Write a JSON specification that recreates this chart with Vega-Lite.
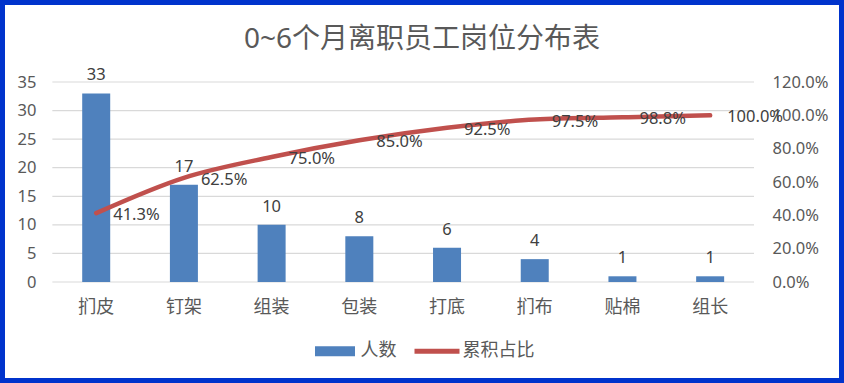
{
  "$schema": "https://vega.github.io/schema/vega-lite/v6.json",
  "width": 844,
  "height": 383,
  "padding": 0,
  "autosize": {"type": "none"},
  "background": "white",
  "config": {
    "view": {"stroke": "#0033CC", "strokeWidth": 10, "fill": "white"},
    "font": "Noto Sans, Noto Sans CJK SC"
  },
  "title": {
    "text": "0~6个月离职员工岗位分布表",
    "frame": "group",
    "anchor": "middle",
    "offset": -47,
    "dy": 29,
    "baseline": "alphabetic",
    "fontSize": 28,
    "fontWeight": "normal",
    "color": "#595959",
    "font": "Noto Sans, Noto Sans CJK SC"
  },
  "data": {
    "values": [
      {"岗位": "扪皮", "人数": 33, "累积占比": 0.413},
      {"岗位": "钉架", "人数": 17, "累积占比": 0.625},
      {"岗位": "组装", "人数": 10, "累积占比": 0.75},
      {"岗位": "包装", "人数": 8, "累积占比": 0.85},
      {"岗位": "打底", "人数": 6, "累积占比": 0.925},
      {"岗位": "扪布", "人数": 4, "累积占比": 0.975},
      {"岗位": "贴棉", "人数": 1, "累积占比": 0.988},
      {"岗位": "组长", "人数": 1, "累积占比": 1.0}
    ]
  },
  "encoding": {
    "x": {
      "field": "岗位",
      "type": "nominal",
      "sort": null,
      "scale": {
        "domain": ["扪皮", "钉架", "组装", "包装", "打底", "扪布", "贴棉", "组长"],
        "paddingInner": 0.377,
        "paddingOuter": 1,
        "align": 0.3927
      },
      "axis": {
        "orient": "bottom",
        "offset": -101,
        "title": null,
        "domain": false,
        "ticks": false,
        "grid": false,
        "labelPadding": 16,
        "labelFontSize": 18,
        "labelColor": "#595959",
        "labelFont": "Noto Sans CJK SC",
        "labelAngle": 0
      }
    }
  },
  "layer": [
    {
      "layer": [
        {
          "data": {"values": [{"g": 0}, {"g": 5}, {"g": 10}, {"g": 15}, {"g": 20}, {"g": 25}, {"g": 30}, {"g": 35}]},
          "mark": {"type": "rule", "color": "#D9D9D9", "strokeWidth": 1.2},
          "encoding": {
            "x": {"datum": "扪皮", "type": "nominal", "bandPosition": -0.3025},
            "x2": {"datum": "组长", "bandPosition": 1.3025},
            "y": {
              "field": "g",
              "type": "quantitative",
              "scale": {"domain": [-17.675, 49.35], "nice": false, "zero": false},
              "axis": {
                "orient": "left",
                "offset": -52,
                "values": [0, 5, 10, 15, 20, 25, 30, 35],
                "title": null,
                "grid": false,
                "domain": false,
                "ticks": false,
                "labelPadding": 16,
                "labelFontSize": 16.5,
                "labelColor": "#595959"
              }
            }
          }
        },
        {
          "mark": {"type": "bar", "width": {"band": 0.5125}},
          "encoding": {
            "y": {
              "field": "人数",
              "type": "quantitative",
              "scale": {"domain": [-17.675, 49.35], "nice": false, "zero": false},
              "axis": {
                "orient": "left",
                "offset": -52,
                "values": [0, 5, 10, 15, 20, 25, 30, 35],
                "title": null,
                "grid": false,
                "domain": false,
                "ticks": false,
                "labelPadding": 16,
                "labelFontSize": 16.5,
                "labelColor": "#595959"
              }
            },
            "y2": {"datum": 0},
            "color": {
              "datum": "人数",
              "type": "nominal",
              "scale": {"domain": ["人数", "累积占比"], "range": ["#4F81BD", "#C0504D"]},
              "legend": {
                "orient": "none",
                "legendX": 312.5,
                "legendY": 328.5,
                "direction": "horizontal",
                "title": null,
                "symbolSize": 2025,
                "symbolType": "M-0.889,-0.222H0.889V0.222H-0.889Z",
                "symbolStrokeWidth": 0,
                "labelFontSize": 18,
                "labelFont": "Noto Sans CJK SC",
                "labelColor": "#595959",
                "labelOffset": 3,
                "columnPadding": 18,
                "encode": {
                  "symbols": {
                    "update": {
                      "shape": [
                        {"test": "datum.value === '人数'", "value": "M-0.889,-0.222H0.889V0.222H-0.889Z"},
                        {"value": "M-1,-0.11H1V0.11H-1Z"}
                      ],
                      "fill": [
                        {"test": "datum.value === '人数'", "value": "#4F81BD"},
                        {"value": "#C0504D"}
                      ],
                      "stroke": {"value": "transparent"},
                      "strokeWidth": {"value": 0},
                      "opacity": {"value": 1}
                    }
                  }
                }
              }
            }
          }
        },
        {
          "mark": {"type": "text", "baseline": "alphabetic", "dy": -13, "fontSize": 16.5, "fill": "#404040"},
          "encoding": {
            "y": {
              "field": "人数",
              "type": "quantitative",
              "scale": {"domain": [-17.675, 49.35], "nice": false, "zero": false},
              "axis": {
                "orient": "left",
                "offset": -52,
                "values": [0, 5, 10, 15, 20, 25, 30, 35],
                "title": null,
                "grid": false,
                "domain": false,
                "ticks": false,
                "labelPadding": 16,
                "labelFontSize": 16.5,
                "labelColor": "#595959"
              }
            },
            "text": {"field": "人数", "type": "quantitative"}
          }
        }
      ]
    },
    {
      "layer": [
        {
          "mark": {"type": "line", "strokeWidth": 4.5, "interpolate": "monotone", "strokeCap": "round"},
          "encoding": {
            "y": {
              "field": "累积占比",
              "type": "quantitative",
              "scale": {"domain": [-0.606, 1.692], "nice": false, "zero": false},
              "axis": {
                "orient": "right",
                "offset": -90,
                "values": [0, 0.2, 0.4, 0.6, 0.8, 1.0, 1.2],
                "format": ".1%",
                "title": null,
                "grid": false,
                "domain": false,
                "ticks": false,
                "labelPadding": 18,
                "labelFontSize": 16.5,
                "labelColor": "#595959"
              }
            },
            "color": {"datum": "累积占比", "type": "nominal"}
          }
        },
        {
          "mark": {"type": "text", "align": "left", "baseline": "middle", "dx": 17, "dy": 2, "fontSize": 16.5, "fill": "#404040"},
          "encoding": {
            "y": {
              "field": "累积占比",
              "type": "quantitative",
              "scale": {"domain": [-0.606, 1.692], "nice": false, "zero": false},
              "axis": {
                "orient": "right",
                "offset": -90,
                "values": [0, 0.2, 0.4, 0.6, 0.8, 1.0, 1.2],
                "format": ".1%",
                "title": null,
                "grid": false,
                "domain": false,
                "ticks": false,
                "labelPadding": 18,
                "labelFontSize": 16.5,
                "labelColor": "#595959"
              }
            },
            "text": {"field": "累积占比", "type": "quantitative", "format": ".1%"}
          }
        }
      ]
    }
  ],
  "resolve": {"scale": {"y": "independent"}}
}
